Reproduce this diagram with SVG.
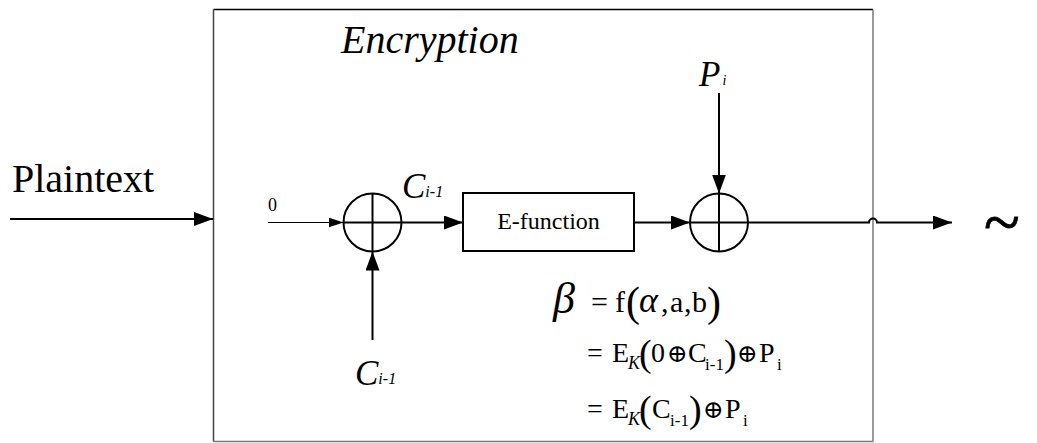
<svg xmlns="http://www.w3.org/2000/svg" width="1037" height="443" viewBox="0 0 1037 443" font-family="'Liberation Serif', 'Times New Roman', 'DejaVu Serif', serif">
<style>
text{font-family:'Liberation Serif','Times New Roman','DejaVu Serif',serif;fill:#000}
.i{font-style:italic}
.ln{stroke:#000;stroke-width:2;fill:none}
.th{stroke:#000;stroke-width:1;fill:none}
</style>
<defs>
<marker id="ah" markerUnits="userSpaceOnUse" markerWidth="20" markerHeight="14" refX="19" refY="7" orient="auto">
<path d="M0,0 L19,7 L0,14 Z" fill="#000"/>
</marker>
<marker id="as" markerUnits="userSpaceOnUse" markerWidth="16" markerHeight="10" refX="15" refY="5" orient="auto">
<path d="M0,0 L15,5 L0,10 Z" fill="#000"/>
</marker>
</defs>
<rect width="1037" height="443" fill="#fff"/>
<g id="frame">
<line x1="213.5" y1="9.5" x2="873" y2="9.5" stroke="#000" stroke-width="1.5"/>
<line x1="213.5" y1="9.5" x2="213.5" y2="441.5" stroke="#444" stroke-width="1.5"/>
<line x1="873" y1="9.5" x2="873" y2="441.5" stroke="#777" stroke-width="1.5"/>
<line x1="213.5" y1="441.5" x2="873" y2="441.5" stroke="#777" stroke-width="1.5"/>
<text class="i" x="341" y="53" font-size="40">Encryption</text>
</g>
<g id="plaintext">
<text x="12" y="192" font-size="40">Plaintext</text>
</g>
<g id="xor1">
<circle cx="372.5" cy="222.5" r="29" class="ln"/>
<line x1="343.5" y1="222.5" x2="401.5" y2="222.5" class="ln"/>
<line x1="372.5" y1="193.5" x2="372.5" y2="251.5" class="ln"/>
</g>
<g id="efunction">
<rect x="463" y="193" width="171" height="58" class="ln"/>
<text x="548.5" y="229" font-size="24" text-anchor="middle">E-function</text>
</g>
<g id="xor2">
<circle cx="719" cy="222.5" r="29" class="ln"/>
<line x1="690" y1="222.5" x2="748" y2="222.5" class="ln"/>
<line x1="719" y1="193.5" x2="719" y2="251.5" class="ln"/>
</g>
<g id="labels">
<text x="268" y="211" font-size="18">0</text>
<text class="i" x="402" y="198" font-size="35">C<tspan font-size="16" dy="-1">i-1</tspan></text>
<text class="i" x="355" y="385" font-size="35">C<tspan font-size="16" dy="-1">i-1</tspan></text>
<text class="i" x="699" y="86" font-size="35">P<tspan font-size="14" dx="2" dy="-1">i</tspan></text>
<text x="984" y="244" font-size="66" stroke="#000" stroke-width="0.8">~</text>
</g>
<g id="formula">
<text class="i" x="553" y="313" font-size="44">β</text>
<text x="591" y="312" font-size="30">=</text>
<text x="615" y="312" font-size="30">f</text>
<text x="626" y="316" font-size="42">(</text>
<text class="i" x="639" y="312" font-size="36">α</text>
<text x="661" y="312" font-size="30">,</text>
<text x="670" y="312" font-size="30">a</text>
<text x="684" y="312" font-size="30">,</text>
<text x="692" y="312" font-size="30">b</text>
<text x="707" y="316" font-size="42">)</text>

<text x="587" y="362" font-size="28">=</text>
<text x="612" y="362" font-size="28">E</text>
<text class="i" x="628" y="369" font-size="18">K</text>
<text x="639" y="366" font-size="38">(</text>
<text x="651" y="362" font-size="28">0</text>
<text x="667" y="362" font-size="25">⊕</text>
<text x="688" y="362" font-size="28">C</text>
<text x="705" y="370" font-size="17">i-1</text>
<text x="724" y="366" font-size="38">)</text>
<text x="737" y="362" font-size="25">⊕</text>
<text x="759" y="362" font-size="28">P</text>
<text x="777" y="370" font-size="17">i</text>

<text x="587" y="418" font-size="28">=</text>
<text x="612" y="418" font-size="28">E</text>
<text class="i" x="628" y="425" font-size="18">K</text>
<text x="639" y="422" font-size="38">(</text>
<text x="652" y="418" font-size="28">C</text>
<text x="670" y="426" font-size="17">i-1</text>
<text x="689" y="422" font-size="38">)</text>
<text x="703" y="418" font-size="25">⊕</text>
<text x="725" y="418" font-size="28">P</text>
<text x="743" y="426" font-size="17">i</text>
</g>
<g id="connectors">
<line x1="10" y1="219" x2="213" y2="219" class="ln" marker-end="url(#ah)"/>
<line x1="268" y1="222.5" x2="343.5" y2="222.5" class="th" marker-end="url(#as)"/>
<line x1="401.5" y1="222.5" x2="463" y2="222.5" class="ln" marker-end="url(#ah)"/>
<line x1="634" y1="222.5" x2="690" y2="222.5" class="ln" marker-end="url(#ah)"/>
<line x1="719" y1="93" x2="719" y2="193.5" class="ln" marker-end="url(#ah)"/>
<line x1="372.5" y1="340" x2="372.5" y2="251.5" class="ln" marker-end="url(#ah)"/>
<path d="M748,222.5 H869 A4,4 0 0 1 877,222.5 H952" class="ln" marker-end="url(#ah)"/>
</g>
</svg>
